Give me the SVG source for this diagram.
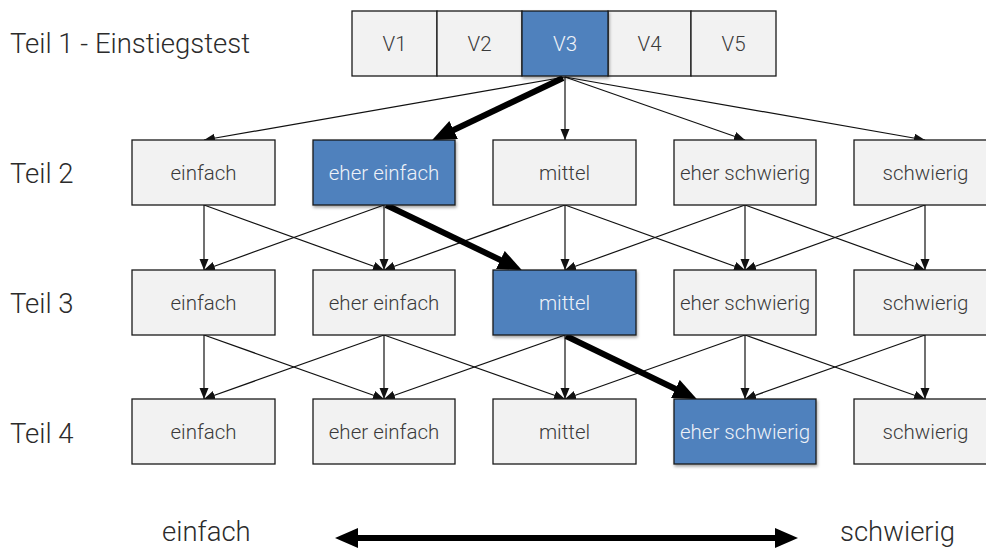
<svg xmlns="http://www.w3.org/2000/svg" width="986" height="549" viewBox="0 0 986 549">
<defs>
<style>
.box{fill:#f2f2f2;stroke:#1a1a1a;stroke-width:1.3}
.sel{fill:#4f81bd;stroke:#1a1a1a;stroke-width:1.3;filter:url(#sh)}
.t{font-family:Roboto,"Liberation Sans",sans-serif;font-weight:300;font-size:20.5px;fill:#3a3a3a;text-anchor:middle;dominant-baseline:central}
.ts{fill:#eef2f8}
.lab{font-family:Roboto,"Liberation Sans",sans-serif;font-weight:300;font-size:27.5px;fill:#2b2b2b}
.thin{stroke:#111;stroke-width:1.2;fill:none;marker-end:url(#ah)}
.thick{stroke:#000;stroke-width:6;fill:none;marker-end:url(#ahb)}
</style>
<marker id="ah" markerUnits="userSpaceOnUse" markerWidth="12" markerHeight="10" refX="11" refY="4.5" orient="auto"><path d="M0,0 L11,4.5 L0,9 z" fill="#111"/></marker>
<marker id="ahb" markerUnits="userSpaceOnUse" markerWidth="26" markerHeight="22" refX="14" refY="10" orient="auto"><path d="M0,0 L24,10 L0,20 z" fill="#000"/></marker>
<filter id="sh" x="-10%" y="-10%" width="130%" height="140%"><feDropShadow dx="1" dy="2" stdDeviation="1.5" flood-color="#000" flood-opacity="0.35"/></filter>
</defs>
<g id="labels">
<text class="lab" x="10" y="53">Teil 1 - Einstiegstest</text>
<text class="lab" x="10" y="183">Teil 2</text>
<text class="lab" x="10" y="313">Teil 3</text>
<text class="lab" x="10" y="443">Teil 4</text>
</g>
<g id="connectors">
<line class="thin" x1="565" y1="77" x2="204" y2="140"/>
<line class="thin" x1="565" y1="77" x2="565" y2="140"/>
<line class="thin" x1="565" y1="77" x2="745" y2="140"/>
<line class="thin" x1="565" y1="77" x2="925" y2="140"/>
<line class="thin" x1="204" y1="205" x2="204" y2="270"/>
<line class="thin" x1="204" y1="205" x2="384" y2="270"/>
<line class="thin" x1="384" y1="205" x2="204" y2="270"/>
<line class="thin" x1="384" y1="205" x2="384" y2="270"/>
<line class="thin" x1="565" y1="205" x2="384" y2="270"/>
<line class="thin" x1="565" y1="205" x2="565" y2="270"/>
<line class="thin" x1="565" y1="205" x2="745" y2="270"/>
<line class="thin" x1="745" y1="205" x2="565" y2="270"/>
<line class="thin" x1="745" y1="205" x2="745" y2="270"/>
<line class="thin" x1="745" y1="205" x2="925" y2="270"/>
<line class="thin" x1="925" y1="205" x2="745" y2="270"/>
<line class="thin" x1="925" y1="205" x2="925" y2="270"/>
<line class="thin" x1="204" y1="335" x2="204" y2="399"/>
<line class="thin" x1="204" y1="335" x2="384" y2="399"/>
<line class="thin" x1="384" y1="335" x2="204" y2="399"/>
<line class="thin" x1="384" y1="335" x2="384" y2="399"/>
<line class="thin" x1="384" y1="335" x2="565" y2="399"/>
<line class="thin" x1="565" y1="335" x2="384" y2="399"/>
<line class="thin" x1="565" y1="335" x2="565" y2="399"/>
<line class="thin" x1="745" y1="335" x2="565" y2="399"/>
<line class="thin" x1="745" y1="335" x2="745" y2="399"/>
<line class="thin" x1="745" y1="335" x2="925" y2="399"/>
<line class="thin" x1="925" y1="335" x2="745" y2="399"/>
<line class="thin" x1="925" y1="335" x2="925" y2="399"/>
<line class="thick" x1="563" y1="78" x2="441" y2="136"/>
<line class="thick" x1="386" y1="205" x2="513" y2="266"/>
<line class="thick" x1="566" y1="336" x2="688" y2="395"/>
</g>
<g id="teil1">
<rect class="box" x="352" y="11" width="85" height="65"/>
<text class="t" x="394.5" y="44">V1</text>
<rect class="box" x="437" y="11" width="85" height="65"/>
<text class="t" x="479.5" y="44">V2</text>
<rect class="box" x="608" y="11" width="83" height="65"/>
<text class="t" x="649.5" y="44">V4</text>
<rect class="box" x="691" y="11" width="85" height="65"/>
<text class="t" x="733.5" y="44">V5</text>
<rect class="sel" x="522" y="11" width="86" height="65"/>
<text class="t ts" x="565" y="44">V3</text>
</g>
<g id="t2-einfach"><rect class="box" x="132" y="140" width="143" height="65"/><text class="t" x="203.5" y="173">einfach</text></g>
<g id="t2-eher-einfach"><rect class="sel" x="313" y="140" width="142" height="65"/><text class="t ts" x="384" y="173">eher einfach</text></g>
<g id="t2-mittel"><rect class="box" x="493" y="140" width="143" height="65"/><text class="t" x="564.5" y="173">mittel</text></g>
<g id="t2-eher-schwierig"><rect class="box" x="674" y="140" width="142" height="65"/><text class="t" x="745" y="173">eher schwierig</text></g>
<g id="t2-schwierig"><rect class="box" x="854" y="140" width="143" height="65"/><text class="t" x="925.5" y="173">schwierig</text></g>
<g id="t3-einfach"><rect class="box" x="132" y="270" width="143" height="65"/><text class="t" x="203.5" y="303">einfach</text></g>
<g id="t3-eher-einfach"><rect class="box" x="313" y="270" width="142" height="65"/><text class="t" x="384" y="303">eher einfach</text></g>
<g id="t3-mittel"><rect class="sel" x="493" y="270" width="143" height="65"/><text class="t ts" x="564.5" y="303">mittel</text></g>
<g id="t3-eher-schwierig"><rect class="box" x="674" y="270" width="142" height="65"/><text class="t" x="745" y="303">eher schwierig</text></g>
<g id="t3-schwierig"><rect class="box" x="854" y="270" width="143" height="65"/><text class="t" x="925.5" y="303">schwierig</text></g>
<g id="t4-einfach"><rect class="box" x="132" y="399" width="143" height="65"/><text class="t" x="203.5" y="432">einfach</text></g>
<g id="t4-eher-einfach"><rect class="box" x="313" y="399" width="142" height="65"/><text class="t" x="384" y="432">eher einfach</text></g>
<g id="t4-mittel"><rect class="box" x="493" y="399" width="143" height="65"/><text class="t" x="564.5" y="432">mittel</text></g>
<g id="t4-eher-schwierig"><rect class="sel" x="674" y="399" width="142" height="65"/><text class="t ts" x="745" y="432">eher schwierig</text></g>
<g id="t4-schwierig"><rect class="box" x="854" y="399" width="143" height="65"/><text class="t" x="925.5" y="432">schwierig</text></g>
<g id="scale">
<line x1="352" y1="538" x2="781" y2="538" stroke="#000" stroke-width="6"/>
<path d="M335,538 L358,528 L358,548 z" fill="#000"/>
<path d="M798,538 L775,528 L775,548 z" fill="#000"/>
<text class="lab" x="162" y="541">einfach</text>
<text class="lab" x="840" y="541">schwierig</text>
</g>
</svg>
